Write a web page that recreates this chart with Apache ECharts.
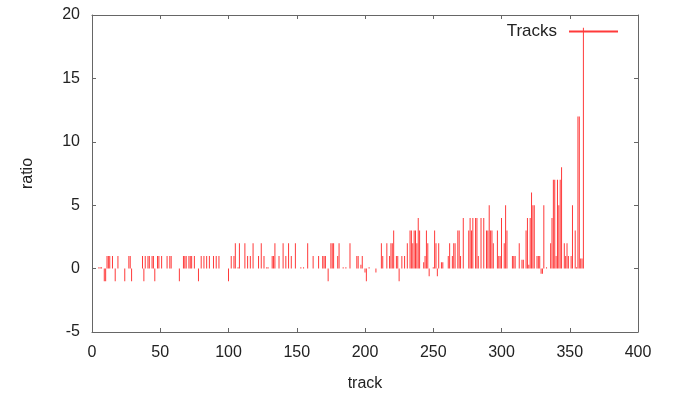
<!DOCTYPE html>
<html>
<head>
<meta charset="utf-8">
<script src="https://cdn.jsdelivr.net/npm/echarts@6/dist/echarts.min.js"></script>
<style>
  html, body { margin: 0; padding: 0; background: #fff; }
  #chart { width: 675px; height: 393px; }
</style>
</head>
<body>
<div id="chart"></div>
<script>
// track ids that have a non-zero ratio
const trackIds = [
  5, 6, 7, 9, 10, 11, 12, 13, 15, 17, 19, 24, 27, 28, 29, 37, 38, 39, 41, 42,
  44, 45, 46, 48, 49, 51, 55, 57, 58, 64, 67, 68, 69, 71, 72, 73, 75, 78, 80, 82,
  84, 86, 89, 91, 93, 100, 102, 104, 105, 107, 108, 112, 114, 116, 118, 122, 124, 126, 128, 129,
  132, 133, 134, 137, 140, 142, 144, 146, 149, 153, 155, 158, 162, 166, 169, 170, 171, 173, 175, 176,
  177, 180, 181, 184, 186, 189, 194, 195, 197, 198, 200, 201, 203, 208, 212, 213, 216, 218, 219, 220,
  221, 223, 224, 225, 227, 229, 231, 233, 234, 235, 236, 237, 238, 239, 240, 243, 244, 245, 246, 247,
  250, 251, 252, 253, 254, 256, 257, 261, 262, 264, 265, 266, 268, 269, 270, 272, 276, 277, 278, 279,
  281, 282, 283, 285, 287, 289, 290, 291, 292, 293, 294, 297, 298, 299, 300, 302, 303, 304, 308, 309,
  310, 313, 315, 316, 318, 319, 320, 321, 322, 323, 324, 326, 327, 328, 329, 330, 331, 333, 336, 337,
  338, 339, 340, 341, 342, 343, 344, 346, 347, 348, 349, 351, 352, 354, 355, 356, 357, 358, 359, 360
]
const ratios = [
  0.1, 0.1, 0.1, -1, -1, 1, 1, 1, 1, -1, 1, -1, 1, 1, -1, 1, -1, 1, 1, 1,
  1, 1, -1, 1, 1, 1, 1, 1, 1, -1, 1, 1, 1, 1, 1, 1, 1, -1, 1, 1,
  1, 1, 1, 1, 1, -1, 1, 1, 2, 0.1, 2, 2, 1, 1, 2, 1, 2, 1, 0.1, 0.1,
  1, 1, 2, 1, 2, 1, 2, 1, 2, 0.1, 0.1, 2, 1, 1, 1, 1, 1, -1, 2, 2,
  2, 1, 2, 0.1, 0.1, 2, 1, 1, 0.3, 1, -0.3, -1, 0.1, -0.3, 2, 1, 2, 1, 2, 2,
  3, 1, 1, -1, 1, 1, 2, 3, 3, 2, 3, 3, 2, 4, 3, 0.5, 1, 3, 2, -0.6,
  0.1, 3, 2, -0.6, 2, 0.5, 0.5, 1, 2, 1, 2, 2, 3, 3, 1, 4, 3, 4, 3, 4,
  4, 4, 1, 4, 4, 3, 3, 5, 3, 3, 2, 3, 1, 1, 4, 2, 5, 3, 1, 1,
  1, 2, 0.7, 0.7, 3, 4, 0.3, 4, 6, 5, 5, 1, 1, 1, -0.4, -0.4, 5, 0.1, 2, 4,
  7, 7, 1, 7, 5, 7, 8, 2, 1, 2, 1, 1, 5, 3, 0.1, 12, 12, 0.8, 0.8, 19
]
const xTicks = { min: 0, max: 400, interval: 50 }
const yTicks = { min: -5, max: 20, interval: 5 }

const chart = echarts.init(document.getElementById('chart'))

const axisColor = '#666'
const lineRed = '#ff3a3a'
const font = 'Liberation Sans, Arial, sans-serif'
// gnuplot style: full border box, ticks pointing in on all four sides
const mirror = {
  axisLine: { show: true, onZero: false, lineStyle: { color: axisColor, width: 1 } },
  axisTick: { show: true, inside: true, length: 4, lineStyle: { color: axisColor } },
  splitLine: { show: false }
}

chart.setOption({
  animation: false,
  textStyle: { fontFamily: font },
  grid: { left: 92, right: 37, top: 15, bottom: 61, outerBoundsMode: 'none' },
  legend: {
    data: [{ name: 'Tracks', itemStyle: { color: lineRed, borderWidth: 0, opacity: 1 } }],
    right: 52,
    top: 18,
    align: 'right',
    icon: 'rect',
    itemWidth: 49,
    itemHeight: 2,
    textStyle: { fontSize: 17, color: '#222', fontFamily: font, padding: [0, 7, 0, 0] }
  },
  xAxis: [{
    type: 'value',
    ...xTicks,
    name: 'track',
    nameLocation: 'middle',
    nameGap: 44,
    nameTextStyle: { fontSize: 16, color: '#222' },
    ...mirror,
    axisLabel: { fontSize: 16, color: '#222', margin: 13 }
  }, {
    type: 'value',
    position: 'top',
    ...xTicks,
    ...mirror,
    axisLabel: { show: false }
  }],
  yAxis: [{
    type: 'value',
    ...yTicks,
    name: 'ratio',
    nameLocation: 'middle',
    nameGap: 56,
    nameTextStyle: { fontSize: 16, color: '#222' },
    ...mirror,
    axisLabel: { fontSize: 16, color: '#222', margin: 12 }
  }, {
    type: 'value',
    position: 'right',
    ...yTicks,
    ...mirror,
    axisLabel: { show: false }
  }],
  series: [{
    name: 'Tracks',
    type: 'bar',
    barWidth: 1,
    itemStyle: { color: lineRed },
    data: trackIds.map((t, i) => [t, ratios[i]])
  }]
})
</script>
</body>
</html>
